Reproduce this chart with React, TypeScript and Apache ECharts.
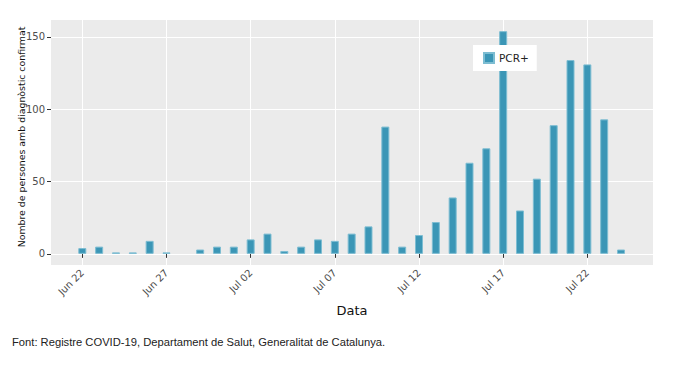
import React, { useEffect, useRef } from "react";
import * as echarts from "echarts";

const dates: string[] = [
  "2020-06-22", "2020-06-23", "2020-06-24", "2020-06-25", "2020-06-26", "2020-06-27", "2020-06-28",
  "2020-06-29", "2020-06-30", "2020-07-01", "2020-07-02", "2020-07-03", "2020-07-04", "2020-07-05",
  "2020-07-06", "2020-07-07", "2020-07-08", "2020-07-09", "2020-07-10", "2020-07-11", "2020-07-12",
  "2020-07-13", "2020-07-14", "2020-07-15", "2020-07-16", "2020-07-17", "2020-07-18", "2020-07-19",
  "2020-07-20", "2020-07-21", "2020-07-22", "2020-07-23", "2020-07-24",
];
const pcrValues: number[] = [
  4, 5, 1, 1, 9, 1, 0,
  3, 5, 5, 10, 14, 2, 5,
  10, 9, 14, 19, 88, 5, 13,
  22, 39, 63, 73, 154, 30, 52,
  89, 134, 131, 93, 3,
];
const xTickDates: string[] = ["2020-06-22", "2020-06-27", "2020-07-02", "2020-07-07", "2020-07-12", "2020-07-17", "2020-07-22"];
const xTickLabels: string[] = ["Jun 22", "Jun 27", "Jul 02", "Jul 07", "Jul 12", "Jul 17", "Jul 22"];
const yTicks: number[] = [0, 50, 100, 150];

const seriesName = "PCR+";
const yTitle = "Nombre de persones amb diagnòstic confirmat";
const xTitle = "Data";
const footer = "Font: Registre COVID-19, Departament de Salut, Generalitat de Catalunya.";

const DAY = 86400000;
const ts = (d: string) => Date.parse(d + "T00:00:00Z");

export default function App() {
  const ref = useRef<HTMLDivElement>(null);
  useEffect(() => {
    if (!ref.current) return;
    const chart = echarts.init(ref.current, undefined, { renderer: "svg" });
    const tickTs = xTickDates.map(ts);
    const first = ts(dates[0]);
    const last = ts(dates[dates.length - 1]);
    chart.setOption({
      animation: false,
      grid: {
        left: 51,
        right: 22,
        top: 20,
        bottom: 102,
        show: true,
        backgroundColor: "#ebebeb",
        borderWidth: 0,
        outerBoundsMode: "none",
      },
      legend: {
        data: [seriesName],
        left: 473,
        top: 45,
        backgroundColor: "#ffffff",
        padding: [7, 8, 7, 10],
        itemWidth: 10,
        itemHeight: 10,
        icon: "rect",
        textStyle: { fontFamily: "DejaVu Sans", fontSize: 10.5, color: "#222" },
        selectedMode: false,
      },
      xAxis: {
        type: "value",
        min: first - 1.86 * DAY,
        max: last + 1.9 * DAY,
        name: xTitle,
        nameLocation: "middle",
        nameGap: 32,
        nameTextStyle: { fontFamily: "DejaVu Sans", fontSize: 13, color: "#111" },
        axisLine: { show: false },
        axisTick: { show: true, length: 4, lineStyle: { color: "#333" }, customValues: tickTs },
        axisLabel: {
          customValues: tickTs,
          rotate: 45,
          margin: 6,
          fontFamily: "DejaVu Sans",
          fontSize: 10,
          color: "#4d4d4d",
          formatter: (v: number) => {
            const i = tickTs.indexOf(v);
            return i >= 0 ? xTickLabels[i] : "";
          },
        },
        splitLine: { show: true, lineStyle: { color: "#ffffff", width: 1 } },
      },
      yAxis: {
        type: "value",
        min: -7.7,
        max: 161.7,
        axisLine: { show: false },
        axisTick: { show: true, length: 4, lineStyle: { color: "#333" }, customValues: yTicks },
        axisLabel: { customValues: yTicks, margin: 6, fontFamily: "DejaVu Sans", fontSize: 10, color: "#4d4d4d" },
        splitLine: { show: true, lineStyle: { color: "#ffffff", width: 1 } },
      },
      series: [
        {
          name: seriesName,
          type: "bar",
          barWidth: 8,
          data: dates.map((d, i) => ({
            value: [ts(d), pcrValues[i]],
            itemStyle: pcrValues[i] === 0 ? { borderWidth: 0 } : undefined,
          })),
          itemStyle: { color: "#3b96b6", borderColor: "#7dbdd2", borderWidth: 1 },
        },
      ],
      graphic: [
        {
          type: "text",
          x: 21,
          y: 137,
          rotation: Math.PI / 2,
          style: {
            text: yTitle,
            fontFamily: "DejaVu Sans",
            fontSize: 9.4,
            fill: "#111",
            align: "center",
            verticalAlign: "middle",
          },
        },
        {
          type: "text",
          left: 12,
          top: 336,
          style: { text: footer, fontFamily: "Liberation Sans", fontSize: 11.2, fill: "#222" },
        },
      ],
    });
    return () => chart.dispose();
  }, []);
  return <div ref={ref} style={{ position: "absolute", left: 0, top: 0, width: 675, height: 367 }} />;
}
